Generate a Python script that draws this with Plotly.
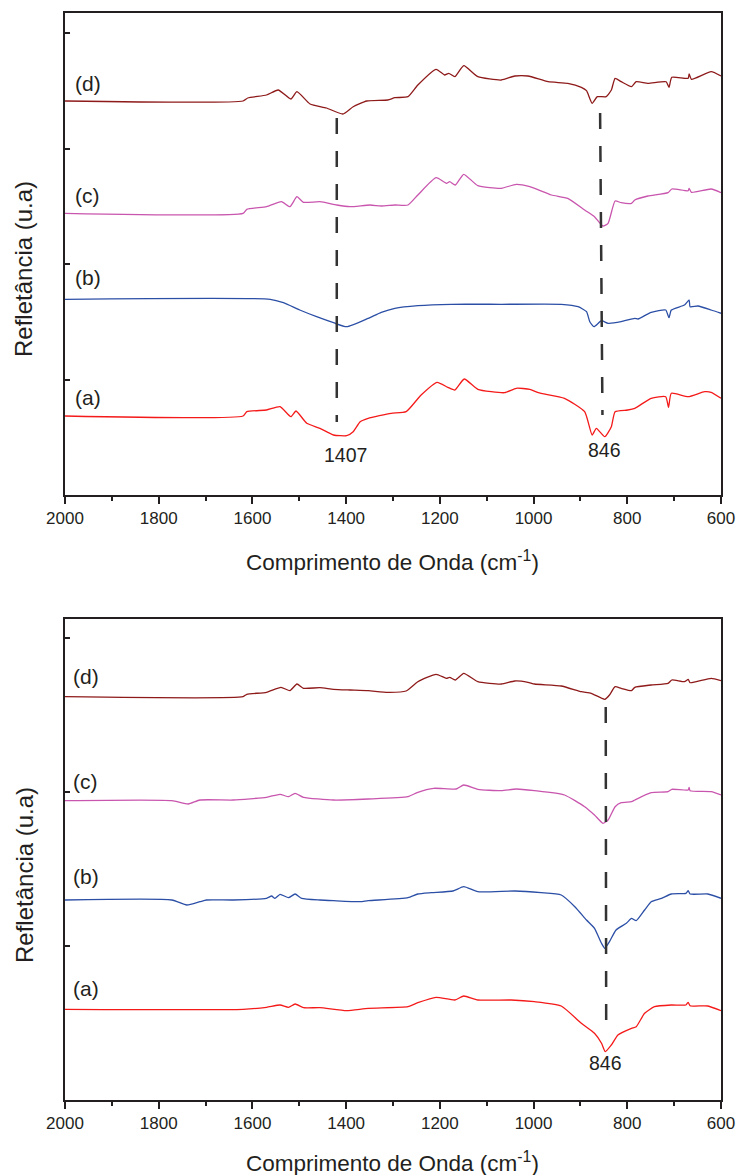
import plotly.graph_objects as go

# ---------------- data (wavenumber cm-1, reflectance a.u. with offsets) ----------------
# Top panel
top_d_w = [2000,1620,1610,1570,1545,1518,1505,1477,1442,1407,1385,1356,1311,1296,1268,1247,1208,1190,1181,1168,
           1149,1119,1069,1040,1012,969,927,898,887,875,864,845,834,826,813,791,781,756,717,711,705,670,668,663,621,600]
top_d_r = [394,394,397,400,405,396,403.3,391,387,381,388.3,394,395,397.3,398.3,410,425.7,420,421.7,418.3,
           429.3,418.3,415,419,419,413.3,411.7,407.7,404.3,391.7,398.3,398.3,405,416.7,413.3,408.3,413.3,411.7,413.3,407.7,
           417.7,416.7,421,415.7,423.3,419]

top_c_w = [2000,1620,1612,1570,1538,1520,1505,1491,1456,1420,1392,1349,1325,1296,1268,1247,1208,1186,1179,1167,
           1149,1119,1069,1037,1008,962,927,891,870,852,841,826,813,791,784,756,713,705,670,668,663,621,600]
top_c_r = [281.7,281.7,285.7,288.3,293.3,288.3,298.3,292.7,293.3,290,288.3,290,289,290,290,300,317.3,311.7,313.3,310,
           320.7,309.3,306.7,310.7,308.3,300,296.7,285,278.3,269,271.7,294,292.3,291.7,295,299,302.3,306,304.3,306.7,
           302.7,306,302.3]

top_b_w = [2000,1562,1534,1499,1463,1427,1399,1353,1325,1296,1247,1176,1069,941,905,887,880,871,855,841,
           813,784,777,749,718,711,706,678,668,666,649,621,600]
top_b_r = [195.7,195.7,192.3,185,178.3,172.3,168.3,176.7,182.7,186.7,189.3,190.7,190.7,190.7,188.3,183.3,173.3,168.3,174.3,171.7,
           173.3,176.7,176,182.7,185,177.3,185,190,195,188.3,189,185,181.7]

top_a_w = [2000,1620,1612,1570,1541,1518,1507,1484,1456,1427,1399,1385,1370,1353,1304,1272,1240,1206,1183,1168,
           1148,1119,1062,1037,1008,990,934,891,875,866,848,834,826,799,784,749,718,712,706,670,635,621,600]
top_a_r = [79,79,83.3,85,88.3,78.3,84,71.7,66.7,60,59.3,63.3,73.3,76.7,81.7,83.3,100,112.7,107.7,105,
           116,105.7,102.3,106.7,105.7,102.3,96.7,83.3,60,66.7,58.3,68.3,83.3,85,86.7,96.7,98.3,87.7,101.7,98.3,
           103.3,102.7,96.7]

# Bottom panel
bot_d_w = [2000,1620,1612,1570,1539,1520,1505,1491,1456,1427,1392,1353,1311,1272,1247,1208,1186,1179,1167,1149,
           1119,1069,1040,1012,998,941,898,877,848,838,826,813,791,784,749,713,705,678,670,666,621,600]
bot_d_r = [403.3,403.3,405.7,407.7,412.7,409.3,416,411.7,412.3,410.7,410,409.3,407.7,409,418.3,425.7,421.7,422.7,420,426.7,
           418.3,416,419,417.7,416,414,408.3,406.7,400.7,405,413.3,411.7,409.3,412.7,415,416.7,420,418.3,420.7,417.3,
           421.7,419.3]

bot_c_w = [2000,1772,1737,1712,1641,1570,1541,1523,1509,1491,1427,1353,1268,1247,1213,1165,1149,1119,1069,1037,
           998,934,891,870,852,841,826,813,791,784,749,713,705,670,668,666,621,600]
bot_c_r = [299.3,299.3,296,300,300,302.7,305.7,303.3,306.7,302.7,300,301,303.3,307.7,311.7,311,315,310.7,309.3,311,
           309.3,305,293.3,285,276.7,280,293.3,297.3,298.3,300,307.3,308.3,310.7,310,312.7,309.3,308.3,305]

bot_b_w = [2000,1772,1740,1712,1698,1641,1570,1559,1552,1541,1523,1509,1495,1456,1427,1370,1353,1268,1247,1218,
           1172,1149,1119,1040,984,941,912,887,870,855,848,838,824,802,791,781,763,749,727,706,
           675,670,666,628,600]
bot_b_r = [200,200,195,198.3,200,200,201.7,204,201.7,205.7,202.3,206,201.7,200,199.3,198.3,199.3,202.3,206,207.3,
           209,213.3,208.3,209,207.3,205,193.3,180,171.7,156.7,151.7,158.3,170,176.7,181.7,179.3,190,198.3,201.7,206,
           206.7,209.3,206,206,201.7]

bot_a_w = [2000,1620,1570,1541,1523,1509,1491,1456,1399,1353,1268,1247,1208,1168,1149,1119,1048,998,941,898,
           870,855,847,834,820,791,781,763,742,706,675,670,666,628,600]
bot_a_r = [90.7,90.7,92.7,95,92.7,96,92.3,92.3,89.3,91.7,93.3,97.3,102.7,100,104,100,100,98.3,94,76.7,
           66.7,56.7,48.3,55,65,71.7,73.3,86.7,93.3,95,95,97.7,94.3,94,89.3]

labels = ["(a)", "(b)", "(c)", "(d)"]
x_ticks = [2000, 1800, 1600, 1400, 1200, 1000, 800, 600]
peak_labels_top = ["1407", "846"]
peak_labels_bot = ["846"]

# ---------------- styling ----------------
W, H = 738, 1175
INK = "#231F20"
COL = {"a": "#F41A1A", "b": "#2C4FA6", "c": "#C956AE", "d": "#8E1A1A"}
FONT = "Liberation Sans, Arial, sans-serif"

def px_x(p):
    return p / W

def px_y(p):
    return 1 - p / H

fig = go.Figure()

top = [(top_a_w, top_a_r, "a"), (top_b_w, top_b_r, "b"), (top_c_w, top_c_r, "c"), (top_d_w, top_d_r, "d")]
bot = [(bot_a_w, bot_a_r, "a"), (bot_b_w, bot_b_r, "b"), (bot_c_w, bot_c_r, "c"), (bot_d_w, bot_d_r, "d")]

for w, r, k in top:
    fig.add_trace(go.Scatter(x=w, y=r, mode="lines", xaxis="x", yaxis="y",
                             line=dict(color=COL[k], width=1.3, shape="spline", smoothing=0.5),
                             showlegend=False, hoverinfo="skip"))
for w, r, k in bot:
    fig.add_trace(go.Scatter(x=w, y=r, mode="lines", xaxis="x2", yaxis="y2",
                             line=dict(color=COL[k], width=1.3, shape="spline", smoothing=0.5),
                             showlegend=False, hoverinfo="skip"))

xdom = [px_x(65), px_x(721)]
xcommon = dict(range=[2000, 600], autorange=False, tickvals=x_ticks, ticks="outside", ticklen=7,
               tickwidth=1.5, tickcolor=INK, showline=True, linecolor=INK, linewidth=1.5, mirror=True,
               showgrid=False, zeroline=False, tickfont=dict(family=FONT, size=17, color=INK),
               ticklabeloverflow="allow",
               minor=dict(dtick=100, tick0=600, ticks="outside", ticklen=4, tickwidth=1.5, tickcolor=INK),
               domain=xdom, automargin=False)
ycommon = dict(showline=True, linecolor=INK, linewidth=1.5, mirror=True, showgrid=False, zeroline=False,
               ticks="inside", ticklen=5, tickwidth=1.5, tickcolor=INK, showticklabels=False, autorange=False,
               automargin=False)

fig.update_layout(
    width=W, height=H, margin=dict(l=0, r=0, t=0, b=0, autoexpand=False),
    paper_bgcolor="white", plot_bgcolor="white",
    xaxis=dict(anchor="y", **xcommon),
    yaxis=dict(anchor="x", domain=[px_y(495), px_y(13)], range=[0, 482], tick0=0, dtick=115.5, **ycommon),
    xaxis2=dict(anchor="y2", **xcommon),
    yaxis2=dict(anchor="x2", domain=[px_y(1100), px_y(619)], range=[0, 481], tick0=0, dtick=154, **ycommon),
)

# dashed reference lines
dash = dict(color="#333333", width=2.5, dash="16px,17px")
fig.add_shape(type="line", xref="x", yref="y", x0=1420, x1=1420, y0=377, y1=73, line=dash)
fig.add_shape(type="line", xref="x", yref="y", x0=858, x1=853, y0=382, y1=80, line=dash)
fig.add_shape(type="line", xref="x2", yref="y2", x0=846, x1=845, y0=393, y1=68, line=dash)

# sample labels
lab_top_y = [98, 218, 300, 412]
lab_bot_y = [111.7, 223.3, 318.3, 423.3]
for t, yv in zip(labels, lab_top_y):
    fig.add_annotation(x=1984, y=yv, xref="x", yref="y", text=t, showarrow=False, xanchor="left",
                       yanchor="middle", font=dict(family=FONT, size=21, color=INK))
for t, yv in zip(labels, lab_bot_y):
    fig.add_annotation(x=1987, y=yv, xref="x2", yref="y2", text=t, showarrow=False, xanchor="left",
                       yanchor="middle", font=dict(family=FONT, size=21, color=INK))

# peak labels
fig.add_annotation(x=1402, y=40, xref="x", yref="y", text=peak_labels_top[0], showarrow=False,
                   font=dict(family=FONT, size=19.5, color=INK))
fig.add_annotation(x=848, y=45, xref="x", yref="y", text=peak_labels_top[1], showarrow=False,
                   font=dict(family=FONT, size=19.5, color=INK))
fig.add_annotation(x=847, y=37, xref="x2", yref="y2", text=peak_labels_bot[0], showarrow=False,
                   font=dict(family=FONT, size=19.5, color=INK))

# axis titles
xt = "Comprimento de Onda (cm<sup>-1</sup>)"
yt = "Refletância (u.a)"
for yc in (561, 1162):
    fig.add_annotation(x=px_x(393), y=px_y(yc), xref="paper", yref="paper", text=xt, showarrow=False,
                       xanchor="center", yanchor="middle", font=dict(family=FONT, size=22.5, color=INK))
for yc in (269, 875):
    fig.add_annotation(x=px_x(24), y=px_y(yc), xref="paper", yref="paper", text=yt, showarrow=False,
                       textangle=-90, xanchor="center", yanchor="middle",
                       font=dict(family=FONT, size=24, color=INK))

fig.write_html("out.html",
               config={"displayModeBar": False},
               post_script="document.body.style.margin='0';"
                           "document.documentElement.style.overflow='hidden';")
